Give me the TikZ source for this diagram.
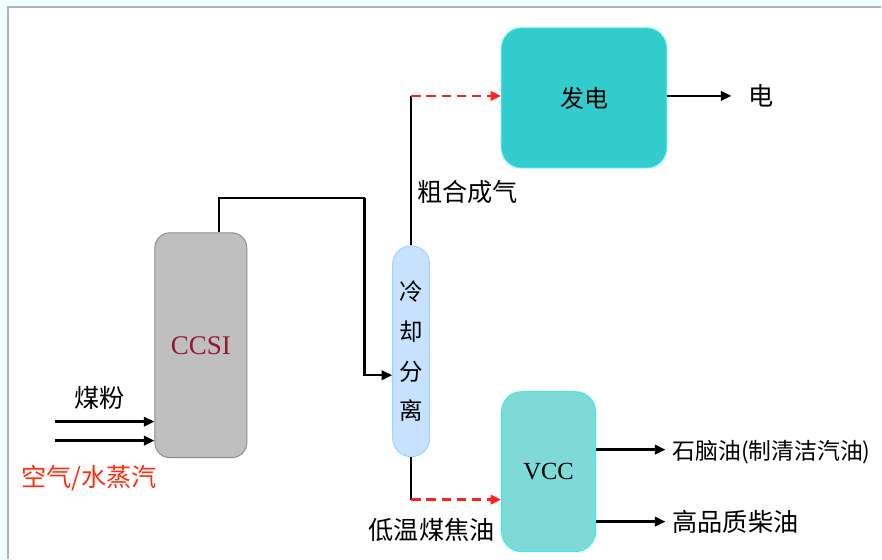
\documentclass[tikz,border=0pt]{standalone}
\usepackage{fontspec}
\setmainfont{Liberation Serif}
\newfontfamily\cjk{Noto Sans CJK SC}
\usetikzlibrary{arrows.meta,positioning,calc}
\definecolor{gasifier}{RGB}{191,191,191}
\definecolor{gasifierline}{RGB}{140,140,140}
\definecolor{ccsired}{RGB}{150,22,52}
\definecolor{coolfill}{RGB}{198,226,255}
\definecolor{coolline}{RGB}{160,210,255}
\definecolor{powerfill}{RGB}{51,204,204}
\definecolor{cyanline}{RGB}{48,238,238}
\definecolor{vccfill}{RGB}{127,217,214}
\definecolor{flowred}{RGB}{255,32,32}
\definecolor{airred}{RGB}{255,48,16}
\definecolor{pagebg}{RGB}{238,255,255}
\tikzset{
    unit/.style={
                draw,
                line width=0.8pt,
                rounded corners=0.45cm,
                text centered
            },
        gasifierbox/.style={
                unit,
                fill=gasifier,
                draw=gasifierline,
                minimum width=2.76cm,
                minimum height=6.75cm,
                text=ccsired,
                font=\fontsize{23}{27}\selectfont
            },
        column/.style={
                unit,
                fill=coolfill,
                draw=coolline,
                rounded corners=0.55cm,
                minimum width=1.11cm,
                minimum height=6.33cm,
                align=center,
                font=\cjk\fontsize{20}{34}\selectfont
            },
        plant/.style={
                unit,
                fill=powerfill,
                draw=cyanline,
                rounded corners=0.6cm
            },
        label/.style={
                font=\cjk\fontsize{21.5}{25}\selectfont
            },
        flow/.style={
                line width=2.2pt,
                -{Triangle[length=9pt,width=8pt]}
            },
        pipe/.style={
                line width=2.2pt
            },
        dashflow/.style={
                flow,
                draw=flowred,
                dash pattern=on 8pt off 5pt,
                -{Triangle[length=9pt,width=8pt,fill=flowred]}
            },
}
\begin{document}
\begin{tikzpicture}[x=0.03cm,y=-0.03cm]
  % page and frame
  \fill[pagebg] (0,0) rectangle (882,559);
  \fill[white] (8,7) rectangle (882,559);
  \draw[gray!60,line width=1.2pt] (882,7) -- (8,7) -- (8,559);
  \useasboundingbox (0,0) rectangle (882,559);
  % Units
  \node[gasifierbox] (ccsi) at (201,345.5) {CCSI};
  \node[column] (sep) at (411.5,351.5) {冷\\却\\分\\离};
  \node[plant,minimum width=4.95cm,minimum height=4.2cm,font=\cjk\fontsize{20.5}{24}\selectfont] (power) at (584.5,98) {发电};
  \node[plant,fill=vccfill,minimum width=2.82cm,minimum height=4.8cm,font=\fontsize{21}{25}\selectfont] (vcc) at (549,472) {VCC};
  % Feed
  \coordinate (coalin) at (55,422);
  \coordinate (airin) at (55,441);
  \draw[flow] (coalin) -- (coalin -| ccsi.west);
  \draw[flow] (airin) -- (airin -| ccsi.west);
  \node[label] (coal) at (100,398) {煤粉};
  \node[label,text=airred,anchor=west] (air) at (17,478) {空气/水蒸汽};
  % Raw gas to cooling
  \coordinate (gasbend) at (365,198);
  \draw[pipe] ([xshift=0.54cm]ccsi.north) |- (gasbend);
  \draw[flow] (gasbend) |- ([yshift=-0.72cm]sep.west);
  % Syngas to power
  \coordinate (gasturn) at (411.5,96);
  \draw[pipe] (sep.north) -- (gasturn);
  \draw[dashflow] (gasturn) -- (gasturn -| power.west);
  \node[label] (syngas) at (468,192) {粗合成气};
  \coordinate (elecout) at (732,96);
  \draw[flow] (gasturn -| power.east) -- (elecout);
  \node[label,anchor=west] (elec) at (745,96) {电};
  % Tar to VCC
  \coordinate (tarturn) at (411.5,500);
  \draw[pipe] (sep.south) -- (tarturn);
  \draw[dashflow] (tarturn) -- (tarturn -| vcc.west);
  \node[label] (tar) at (432,530) {低温煤焦油};
  % Products
  \coordinate (naphout) at (666,450);
  \coordinate (dieselout) at (666,522);
  \draw[flow] (naphout -| vcc.east) -- (naphout);
  \draw[flow] (dieselout -| vcc.east) -- (dieselout);
  \node[label,anchor=west,font=\cjk\fontsize{19.5}{24}\selectfont] (naphtha) at (669,452) {石脑油(制清洁汽油)};
  \node[label,anchor=west] (diesel) at (669,522) {高品质柴油};
\end{tikzpicture}
\end{document}
